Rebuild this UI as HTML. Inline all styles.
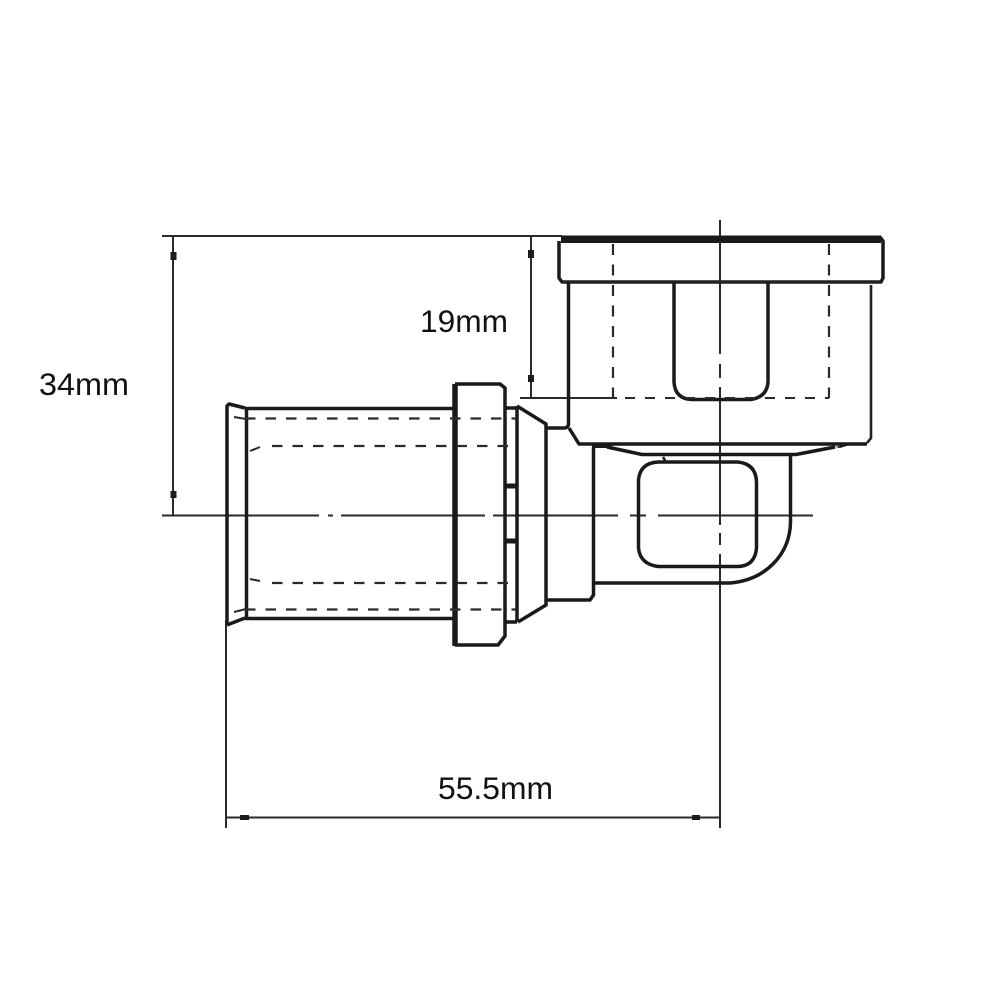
<!DOCTYPE html>
<html>
<head>
<meta charset="utf-8">
<style>
html,body{margin:0;padding:0;background:#fff;width:1000px;height:1000px;overflow:hidden}
svg{display:block}
text{font-family:"Liberation Sans",sans-serif;font-size:31.500px;fill:#111}
.t{stroke:#1a1a1a;stroke-width:3.500;fill:none;stroke-linejoin:round}
.m{stroke:#222;stroke-width:2.600;fill:none}
.d{stroke:#2a2a2a;stroke-width:2;fill:none}
.h{stroke:#2a2a2a;stroke-width:2.200;fill:none;stroke-dasharray:10.500 10}
.v{stroke:#2a2a2a;stroke-width:2.200;fill:none;stroke-dasharray:11 9.500}
</style>
</head>
<body>
<svg width="1000" height="1000" viewBox="0 0 1000 1000" xmlns="http://www.w3.org/2000/svg">
<!-- dimension lines -->
<path class="d" d="M162 236H562M162 515.500H813M173 236V515M531 236V398M226 620V828M720 220V828M226 817.500H720M520 398H617"/>
<g fill="#1c1c1c">
<rect x="170.500" y="252" width="6" height="8"/><rect x="170.500" y="491" width="6" height="7"/>
<rect x="528" y="250" width="6" height="8"/><rect x="528" y="375" width="6" height="7"/>
<rect x="240" y="815" width="9" height="5"/><rect x="692" y="815" width="8" height="5"/>
</g>
<!-- white gaps in centre lines -->
<g fill="#fff">
<rect x="319" y="513" width="9" height="5"/><rect x="333" y="513" width="8" height="5"/>
<rect x="485" y="513" width="8" height="5"/>
<rect x="618" y="513" width="12" height="5"/><rect x="646" y="513" width="12" height="5"/>
<rect x="718" y="354" width="5" height="10"/><rect x="718" y="378" width="5" height="9"/>
<rect x="718" y="525" width="5" height="8"/><rect x="718" y="545" width="5" height="9"/>
</g>
<!-- top nut -->
<rect x="561" y="235.500" width="320" height="7.500" fill="#1a1a1a"/>
<path class="t" d="M559 241V278L562 282H881L883 278V241L880 237"/>
<path class="m" d="M562 282H881"/>
<path class="t" d="M568.500 282V424Q568.500 427 565 428H547"/>
<path class="m" d="M871 285V438L867 443"/>
<path class="t" d="M569 428L579 444H867"/>
<path class="t" d="M607 447L642 454.500H796L835 447"/>
<path d="M592 443H618L608 448H592ZM835 447L850 443H856L840 448Z" fill="#1a1a1a"/>
<path class="t" d="M674 282V382Q675 399 692 399.500H751Q767 397 768 382V282"/>
<path class="v" d="M613 244V398M829 244V398"/>
<path d="M625 398H829" stroke="#2a2a2a" stroke-width="2" fill="none" stroke-dasharray="10 10"/>
<!-- elbow -->
<path class="t" d="M593.500 447V595L590 600H546"/>
<path class="t" d="M593.500 583H730C765 580 790 555 790.500 522V455"/>
<path class="t" d="M664 462H738Q756 464 756.500 482V548Q755 566 738 566.500H658Q640 564 638.500 548V480Q640 463 658 462Z"/>
<path class="m" d="M663 457L666 462"/>
<!-- tube -->
<path class="t" d="M227 625V406L229 404L245 408M227 625L245 618"/>
<path class="t" d="M246.500 409V618"/>
<path class="t" d="M245 408.500H455M245 618.500H455"/>
<!-- collar -->
<path d="M455 384V646" stroke="#1a1a1a" stroke-width="5.500"/>
<path class="t" d="M455 384H500L505 388V636L498 645H455"/>
<path class="t" d="M505 408H517M505 622H517"/>
<path class="t" d="M517 406V622"/>
<path d="M505 486H517M505 541H517" stroke="#1a1a1a" stroke-width="5"/>
<path class="t" d="M517 406L546 424V605L518 622"/>
<!-- hidden lines -->
<path class="h" d="M245 418.500H516M272 446H516M272 583H516M245 609.500H516"/>
<path class="d" d="M234 417L246 419M250 451L260 447M250 579L260 581M234 612L246 609"/>
<!-- labels -->
<text x="39" y="395" textLength="90" lengthAdjust="spacingAndGlyphs">34mm</text>
<text x="420" y="332" textLength="88" lengthAdjust="spacingAndGlyphs">19mm</text>
<text x="438" y="799" textLength="115" lengthAdjust="spacingAndGlyphs">55.5mm</text>
</svg>
</body>
</html>
